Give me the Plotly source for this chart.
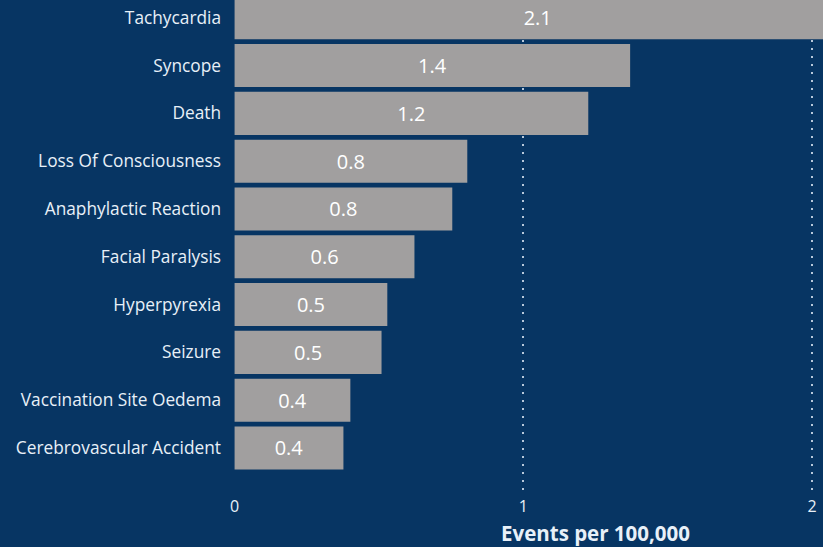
import plotly.graph_objects as go

categories = ["Tachycardia", "Syncope", "Death", "Loss Of Consciousness",
              "Anaphylactic Reaction", "Facial Paralysis", "Hyperpyrexia",
              "Seizure", "Vaccination Site Oedema", "Cerebrovascular Accident"]
values = [2.1, 1.37, 1.225, 0.806, 0.754, 0.623, 0.529, 0.509, 0.401, 0.377]
x_ticks = [0, 1, 2]
x_title = "Events per 100,000"

BG = "#073563"
BAR = "#A19F9F"
TXT = "#E8F0F8"

fig = go.Figure(go.Bar(
    y=categories, x=values, orientation="h",
    marker=dict(color=BAR, line=dict(width=0)),
    texttemplate="%{x:.1f}", textposition="inside", insidetextanchor="middle",
    textangle=0, constraintext="none",
    insidetextfont=dict(color="#FFFFFF", size=20, family="Open Sans"),
    hoverinfo="skip",
))

fig.update_layout(
    width=823, height=547,
    paper_bgcolor=BG, plot_bgcolor=BG,
    margin=dict(l=234, r=0, t=0, b=57),
    bargap=0.1,
    showlegend=False,
    font=dict(family="Open Sans", color=TXT),
    xaxis=dict(range=[-0.002, 2.038], tickvals=x_ticks, ticktext=[str(t) for t in x_ticks],
               showgrid=True, gridcolor="#B8C8DA", griddash="2px,6px", gridwidth=1.5,
               zeroline=False, showline=False, ticks="",
               tickfont=dict(size=16, color=TXT), ticklabelstandoff=5),
    yaxis=dict(range=[9.879, -0.372], showgrid=False, zeroline=False, showline=False,
               ticks="", tickfont=dict(size=17.3, color=TXT), ticklabelstandoff=12),
    annotations=[dict(text="<b>" + x_title + "</b>", xref="paper", yref="paper",
                      x=0.613, y=0, yshift=-43, yanchor="middle", xanchor="center",
                      showarrow=False, font=dict(size=20.5, color=TXT, family="Open Sans"))],
)

fig.write_html("out.html", config={"displayModeBar": False},
               post_script="document.body.style.margin='0';document.body.style.overflow='hidden';")
